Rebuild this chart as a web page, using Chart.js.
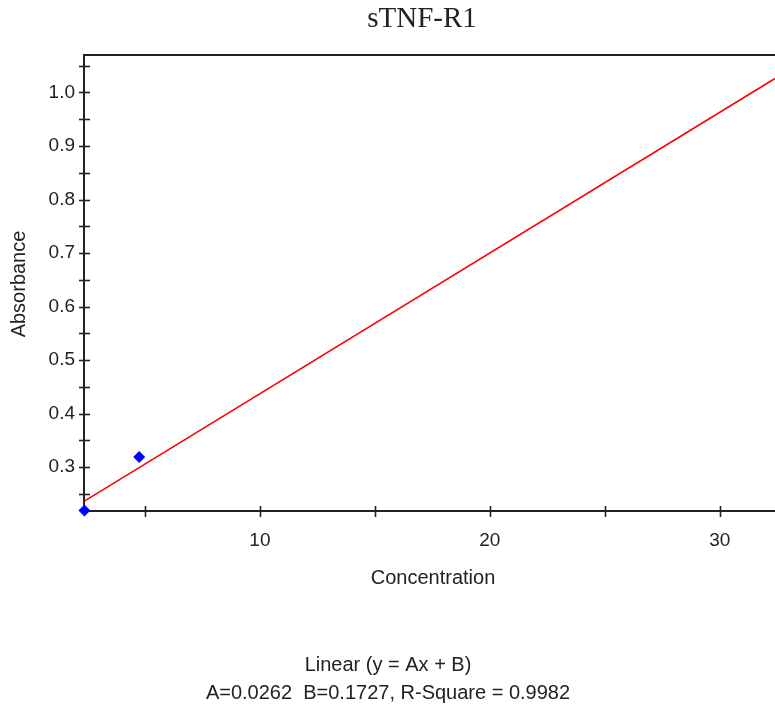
<!DOCTYPE html>
<html>
<head>
<meta charset="utf-8">
<title>sTNF-R1</title>
<script src="https://cdn.jsdelivr.net/npm/chart.js@4.4.1/dist/chart.umd.min.js"></script>
<style>
    html, body { margin: 0; padding: 0; background: #fff; }
    #wrap { width: 775px; height: 706px; }
</style>
</head>
<body>
<div id="wrap"><canvas id="curveChart" width="775" height="706"></canvas></div>
<script>
// Standard points (concentration vs absorbance)
const pointConc = [2.37, 4.75];
const pointAbs = [0.219, 0.319];

// Fitted line end points
const fitConc = [2.35, 32.4];
const fitAbs = [0.236, 1.026];

// Tick labels shown on the axes
const xTickLabels = ['10', '20', '30'];
const yTickLabels = ['0.3', '0.4', '0.5', '0.6', '0.7', '0.8', '0.9', '1.0'];

// Texts
const chartTitle = 'sTNF-R1';
const xTitle = 'Concentration';
const yTitle = 'Absorbance';
const fitText = ['Linear (y = Ax + B)', 'A=0.0262  B=0.1727, R-Square = 0.9982'];

// true when v is a whole multiple of step
function onStep(v, step) {
    const n = v / step;
    return Math.abs(n - Math.round(n)) < 1e-6;
}

document.addEventListener('DOMContentLoaded', function() {
    const canvas = document.getElementById('curveChart');
    const ctx = canvas.getContext('2d');

    const axisColor = '#222';
    const textColor = '#222';
    const sansFont = '"Liberation Sans", Arial, sans-serif';

    // Tick marks crossing the axes + top frame line
    const axisDecor = {
        id: 'axisDecor',
        beforeDatasetsDraw(chart) {
            const c = chart.ctx;
            const area = chart.chartArea;
            const xs = chart.scales.x;
            const ys = chart.scales.y;
            c.save();
            c.strokeStyle = axisColor;
            c.lineWidth = 2;
            c.beginPath();
            c.moveTo(area.left - 1, area.top);
            c.lineTo(area.right, area.top);
            c.stroke();

            c.lineWidth = 1.6;
            ys.ticks.forEach(function(t) {
                if (!onStep(t.value, 0.05)) return;
                const py = Math.round(ys.getPixelForValue(t.value)) + 0.5;
                c.beginPath();
                c.moveTo(area.left - 5, py);
                c.lineTo(area.left + 6, py);
                c.stroke();
            });
            xs.ticks.forEach(function(t) {
                if (!onStep(t.value, 5)) return;
                const px = Math.round(xs.getPixelForValue(t.value)) + 0.5;
                c.beginPath();
                c.moveTo(px, area.bottom - 5);
                c.lineTo(px, area.bottom + 6);
                c.stroke();
            });
            c.restore();
        }
    };

    // Title, axis titles and the fit equation text
    const textDecor = {
        id: 'textDecor',
        afterDraw(chart) {
            const c = chart.ctx;
            c.save();
            c.fillStyle = textColor;
            c.textAlign = 'center';

            c.font = '29px "Liberation Serif", "Times New Roman", serif';
            c.textBaseline = 'alphabetic';
            c.fillText(chartTitle, 422, 27);

            c.font = '20px ' + sansFont;
            c.textBaseline = 'middle';
            c.fillText(xTitle, 433, 578);
            c.fillText(fitText[0], 388, 665);
            c.fillText(fitText[1], 388, 693);

            c.translate(19, 284);
            c.rotate(-Math.PI / 2);
            c.fillText(yTitle, 0, 0);
            c.restore();
        }
    };

    new Chart(ctx, {
        type: 'scatter',
        data: {
            datasets: [
                {
                    label: 'Standards',
                    data: pointConc.map(function(x, i) { return { x: x, y: pointAbs[i] }; }),
                    pointStyle: 'rectRot',
                    pointRadius: 6,
                    backgroundColor: '#0000ff',
                    borderColor: '#0000ff',
                    borderWidth: 0,
                    clip: false,
                    order: 0
                },
                {
                    label: 'Linear fit',
                    data: fitConc.map(function(x, i) { return { x: x, y: fitAbs[i] }; }),
                    showLine: true,
                    borderColor: '#ff0000',
                    borderWidth: 1.6,
                    pointRadius: 0,
                    order: 1
                }
            ]
        },
        options: {
            responsive: false,
            devicePixelRatio: 1,
            animation: false,
            layout: {
                autoPadding: false,
                padding: { top: 55, right: 0, bottom: 0, left: 0 }
            },
            plugins: {
                legend: { display: false },
                tooltip: { enabled: false },
                title: { display: false }
            },
            scales: {
                x: {
                    type: 'linear',
                    position: 'bottom',
                    min: 2.35,
                    max: 32.4,
                    grid: { display: false, drawTicks: false },
                    border: { display: true, color: axisColor, width: 2 },
                    ticks: {
                        stepSize: 5,
                        includeBounds: false,
                        autoSkip: false,
                        maxRotation: 0,
                        padding: 18,
                        color: textColor,
                        font: { family: sansFont, size: 19 },
                        callback: function(value) {
                            if (!onStep(value, 10)) return '';
                            const lbl = String(Math.round(value));
                            return xTickLabels.includes(lbl) ? lbl : '';
                        }
                    },
                    afterFit: function(scale) {
                        scale.height = 195;
                        scale.paddingLeft = 0;
                        scale.paddingRight = 0;
                    }
                },
                y: {
                    type: 'linear',
                    min: 0.218,
                    max: 1.07,
                    grid: { display: false, drawTicks: false },
                    border: { display: true, color: axisColor, width: 2 },
                    ticks: {
                        stepSize: 0.05,
                        includeBounds: false,
                        autoSkip: false,
                        padding: 9,
                        color: textColor,
                        font: { family: sansFont, size: 19 },
                        callback: function(value) {
                            if (!onStep(value, 0.1)) return '';
                            const lbl = (Math.round(value * 10) / 10).toFixed(1);
                            return yTickLabels.includes(lbl) ? lbl : '';
                        }
                    },
                    afterFit: function(scale) {
                        scale.width = 84;
                        scale.paddingTop = 0;
                        scale.paddingBottom = 0;
                    }
                }
            }
        },
        plugins: [axisDecor, textDecor]
    });
});
</script>
</body>
</html>
